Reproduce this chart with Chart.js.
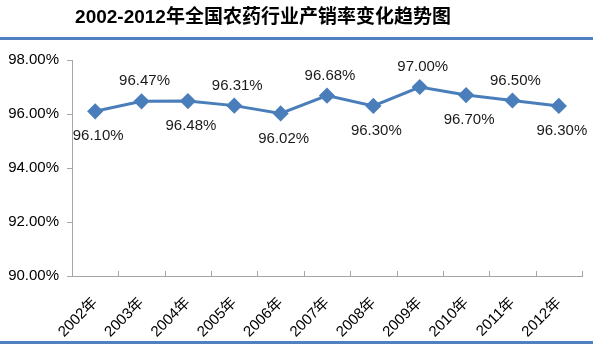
<!DOCTYPE html>
<html>
<head>
<meta charset="utf-8">
<script src="https://cdn.jsdelivr.net/npm/chart.js@4"></script>
<style>
  html, body { margin: 0; padding: 0; background: #fff; }
  #wrap { position: relative; width: 593px; height: 344px; }
</style>
</head>
<body>
<div id="wrap"><canvas id="chart-canvas" width="593" height="344"></canvas></div>
<script>
const TITLE = '2002-2012年全国农药行业产销率变化趋势图';
const years = ['2002年', '2003年', '2004年', '2005年', '2006年', '2007年',
  '2008年', '2009年', '2010年', '2011年', '2012年'];
const rates = [96.10, 96.47, 96.48, 96.31, 96.02, 96.68, 96.30, 97.00, 96.70, 96.50, 96.30];
// where each value label sits relative to its point
const labelSide = ['below', 'above', 'below', 'above', 'below', 'above',
  'below', 'above', 'below', 'above', 'below'];

const FONT = '"Liberation Sans", Arial, "Noto Sans CJK SC", sans-serif';
const BLUE = '#4a7ebb';

// title, frame lines, inside x ticks and value labels
const decor = {
  id: 'decor',
  afterDraw(chart) {
    const ctx = chart.ctx;
    const x = chart.scales.x;
    const y = chart.scales.y;
    ctx.save();

    ctx.fillStyle = '#000';
    ctx.font = 'bold 19px ' + FONT;
    ctx.textAlign = 'center';
    ctx.textBaseline = 'middle';
    ctx.fillText(TITLE, 263, 18);

    ctx.fillStyle = '#4f80c0';
    ctx.fillRect(0, 37, chart.width, 3);
    ctx.fillRect(0, 341, chart.width, 3);

    // category boundary ticks, drawn upward into the plot
    ctx.strokeStyle = '#a6a6a6';
    ctx.lineWidth = 1;
    const step = x.getPixelForValue(1) - x.getPixelForValue(0);
    for (let i = 1; i <= years.length; i++) {
      const px = Math.round(x.getPixelForValue(i) - step / 2) + 0.5;
      ctx.beginPath();
      ctx.moveTo(px, y.bottom);
      ctx.lineTo(px, y.bottom - 5);
      ctx.stroke();
    }

    ctx.fillStyle = '#1a1a1a';
    ctx.font = '15px ' + FONT;
    ctx.textAlign = 'center';
    const meta = chart.getDatasetMeta(0);
    meta.data.forEach((pt, i) => {
      const dy = labelSide[i] === 'above' ? -20 : 25;
      ctx.fillText(rates[i].toFixed(2) + '%', pt.x + 3, pt.y + dy);
    });
    ctx.restore();
  }
};

function createChart() {
  const canvas = document.getElementById('chart-canvas');
  new Chart(canvas, {
    type: 'line',
    data: {
      labels: years,
      datasets: [{
        data: rates,
        borderColor: BLUE,
        backgroundColor: BLUE,
        borderWidth: 3,
        pointStyle: 'rectRot',
        pointRadius: 6,
        pointHoverRadius: 6,
        tension: 0
      }]
    },
    options: {
      responsive: false,
      animation: false,
      events: [],
      layout: { padding: { top: 60, right: 11, bottom: 0, left: 0 } },
      plugins: {
        legend: { display: false },
        tooltip: { enabled: false },
        title: { display: false }
      },
      scales: {
        x: {
          offset: true,
          grid: { display: false },
          border: { color: '#a6a6a6', width: 1 },
          ticks: {
            color: '#000',
            font: { family: FONT, size: 15 },
            maxRotation: 45,
            minRotation: 45,
            padding: 10,
            autoSkip: false
          },
          afterFit(scale) { scale.height = 68; }
        },
        y: {
          min: 90,
          max: 98,
          grid: {
            drawOnChartArea: false,
            tickLength: 5,
            color: '#a6a6a6'
          },
          border: { color: '#a6a6a6', width: 1 },
          ticks: {
            stepSize: 2,
            color: '#000',
            padding: 8,
            font: { family: FONT, size: 15 },
            callback: (v) => v.toFixed(2) + '%'
          },
          afterFit(scale) { scale.width = 72; }
        }
      }
    },
    plugins: [decor]
  });
}

document.addEventListener('DOMContentLoaded', createChart);
</script>
</body>
</html>
